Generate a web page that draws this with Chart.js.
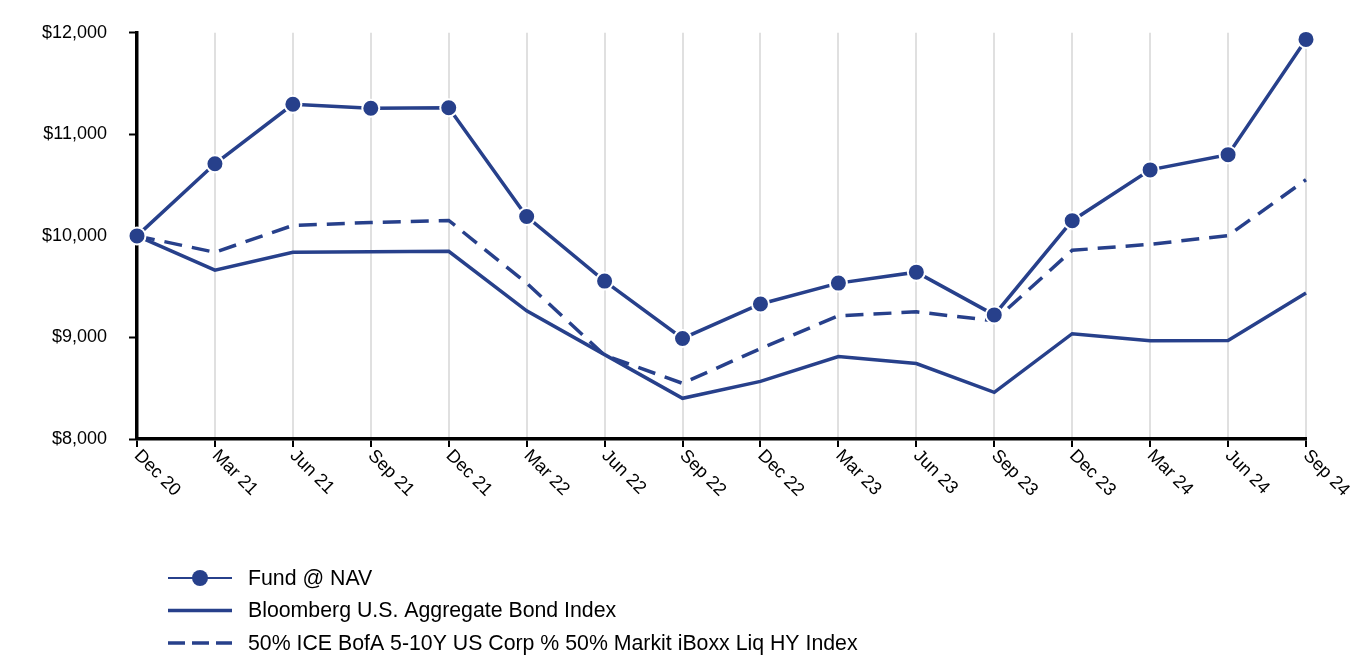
<!DOCTYPE html>
<html>
<head>
<meta charset="utf-8">
<script src="https://cdn.jsdelivr.net/npm/chart.js@4.4.1/dist/chart.umd.min.js"></script>
<style>
  html, body { margin: 0; padding: 0; background: #fff; }
  #wrap { width: 1368px; height: 660px; position: relative; }
</style>
</head>
<body>
<div id="wrap"><canvas id="growthChart"></canvas></div>
<script>
// Growth of $10,000 - quarterly values
const periods = ['Dec 20', 'Mar 21', 'Jun 21', 'Sep 21', 'Dec 21', 'Mar 22', 'Jun 22', 'Sep 22',
  'Dec 22', 'Mar 23', 'Jun 23', 'Sep 23', 'Dec 23', 'Mar 24', 'Jun 24', 'Sep 24'];
const fundNav = [10000, 10710, 11296, 11257, 11262, 10191, 9555, 8990,
  9330, 9535, 9643, 9222, 10150, 10650, 10800, 11935];
const bloombergAgg = [10000, 9663, 9839, 9845, 9848, 9262, 8831, 8401,
  8567, 8812, 8743, 8460, 9037, 8968, 8970, 9438];
const blendIndex = [10000, 9839, 10103, 10132, 10152, 9535, 8825, 8548,
  8890, 9213, 9252, 9164, 9858, 9917, 10003, 10553];
const yTicks = [8000, 9000, 10000, 11000, 12000];
const seriesNames = ['Fund @ NAV', 'Bloomberg U.S. Aggregate Bond Index',
  '50% ICE BofA 5-10Y US Corp % 50% Markit iBoxx Liq HY Index'];

(function() {
  const lineColor = '#27408B';
  const font = '"Liberation Sans", Arial, sans-serif';

  // x labels rotated clockwise (Chart.js only rotates the other way)
  const xLabelPlugin = {
    id: 'xLabels',
    afterDraw(chart) {
      const ctx = chart.ctx;
      const xs = chart.scales.x;
      ctx.save();
      ctx.fillStyle = '#000';
      ctx.font = '18px ' + font;
      ctx.textAlign = 'left';
      ctx.textBaseline = 'middle';
      periods.forEach(function(lbl, i) {
        const x = xs.getPixelForTick(i);
        ctx.save();
        ctx.translate(x, xs.top + 14);
        ctx.rotate(Math.PI / 4);
        ctx.fillText(lbl, 0, 0);
        ctx.restore();
      });
      ctx.restore();
    }
  };

  // stacked legend at bottom left
  const legendPlugin = {
    id: 'stackLegend',
    afterDraw(chart) {
      const ctx = chart.ctx;
      ctx.save();
      ctx.font = '21.3px ' + font;
      ctx.textBaseline = 'middle';
      ctx.textAlign = 'left';
      chart.data.datasets.forEach(function(ds, i) {
        const y = 578 + i * 32.5;
        ctx.strokeStyle = ds.borderColor;
        ctx.lineWidth = i === 0 ? 2 : 3.5;
        ctx.setLineDash(i === 2 ? [17, 7] : []);
        ctx.beginPath();
        ctx.moveTo(168, y);
        ctx.lineTo(232, y);
        ctx.stroke();
        ctx.setLineDash([]);
        if (i === 0) {
          ctx.fillStyle = ds.pointBackgroundColor;
          ctx.beginPath();
          ctx.arc(200, y, 8, 0, Math.PI * 2);
          ctx.fill();
        }
        ctx.fillStyle = '#000';
        ctx.fillText(ds.label, 248, y + 1);
      });
      ctx.restore();
    }
  };

  new Chart(document.getElementById('growthChart'), {
    type: 'line',
    data: {
      labels: periods,
      datasets: [{
        label: seriesNames[0],
        data: fundNav,
        borderColor: lineColor,
        borderWidth: 3.5,
        pointRadius: 8.5,
        pointBackgroundColor: lineColor,
        pointBorderColor: '#fff',
        pointBorderWidth: 2,
        tension: 0
      }, {
        label: seriesNames[1],
        data: bloombergAgg,
        borderColor: lineColor,
        borderWidth: 3.5,
        pointRadius: 0,
        tension: 0
      }, {
        label: seriesNames[2],
        data: blendIndex,
        borderColor: lineColor,
        borderWidth: 3.5,
        borderDash: [18, 10],
        pointRadius: 0,
        tension: 0
      }]
    },
    options: {
      responsive: true,
      maintainAspectRatio: false,
      animation: false,
      clip: false,
      layout: { padding: { top: 28, right: 62, bottom: 0, left: 0 } },
      plugins: {
        legend: { display: false },
        tooltip: { enabled: false }
      },
      scales: {
        x: {
          offset: false,
          afterFit(scale) { scale.height = 221; },
          border: { color: '#000', width: 3.5 },
          grid: {
            color: '#e0e0e0',
            lineWidth: 2,
            tickColor: '#000',
            tickLength: 8,
            tickWidth: 2
          },
          ticks: { color: 'rgba(0,0,0,0)', autoSkip: false, maxRotation: 0, font: { size: 18, family: font } }
        },
        y: {
          min: 8000,
          max: 12000,
          afterFit(scale) { scale.width = 137; },
          afterBuildTicks(scale) { scale.ticks = yTicks.map(function(v) { return { value: v }; }); },
          border: { color: '#000', width: 3.5 },
          grid: {
            drawOnChartArea: false,
            tickColor: '#000',
            tickLength: 8,
            tickWidth: 2
          },
          ticks: {
            color: '#000',
            padding: 22,
            font: { size: 18, family: font },
            callback: function(v) { return '$' + v.toLocaleString('en-US'); }
          }
        }
      }
    },
    plugins: [xLabelPlugin, legendPlugin]
  });
})();
</script>
</body>
</html>
